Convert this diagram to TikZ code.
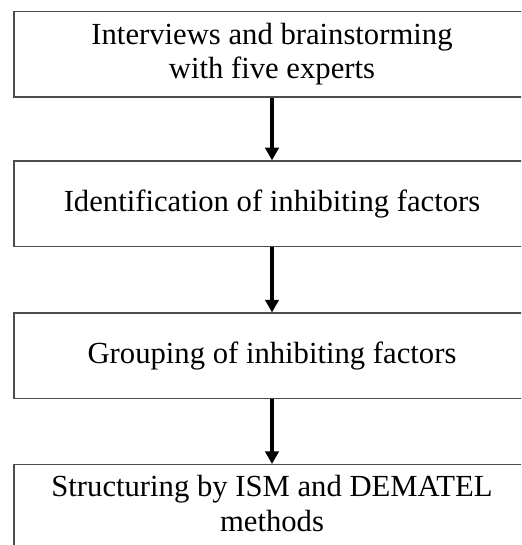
\documentclass[tikz,border=0pt]{standalone}
\usepackage{fontspec}
\setmainfont{Liberation Serif}
\usetikzlibrary{arrows.meta}
\begin{document}
\begin{tikzpicture}[x=0.75pt, y=-0.75pt, stagebox/.style={draw=fcFrame, line width=1pt, minimum width=387pt, minimum height=64pt, inner sep=0pt, align=center, font=\fontsize{23}{26}\selectfont}, flow/.style={-{Triangle[width=10pt, length=9.5pt]}, line width=3pt, fcInk}]
\definecolor{fcInk}{rgb}{0,0,0}
\definecolor{fcFrame}{rgb}{0.30,0.30,0.30}
\useasboundingbox (0,0) rectangle (521,545);
\clip (0,0) rectangle (521,545);
\node[stagebox] (interviews) at (272,54.2) {Interviews and brainstorming\\with five experts};
\node[stagebox] (identify) at (272,203.7) {Identification of inhibiting factors};
\node[stagebox] (grouping) at (272,355.8) {Grouping of inhibiting factors};
% last box runs off the page, its text sits high
\node[stagebox, anchor=north, text height=24pt, text depth=45pt] (structuring) at (272,464) {\begin{tabular}[t]{@{}c@{}}Structuring by ISM and DEMATEL\\methods\end{tabular}};
\draw[flow] (interviews) -- (identify);
\draw[flow] (identify) -- (grouping);
\draw[flow] (grouping) -- (structuring);
\end{tikzpicture}
\end{document}
